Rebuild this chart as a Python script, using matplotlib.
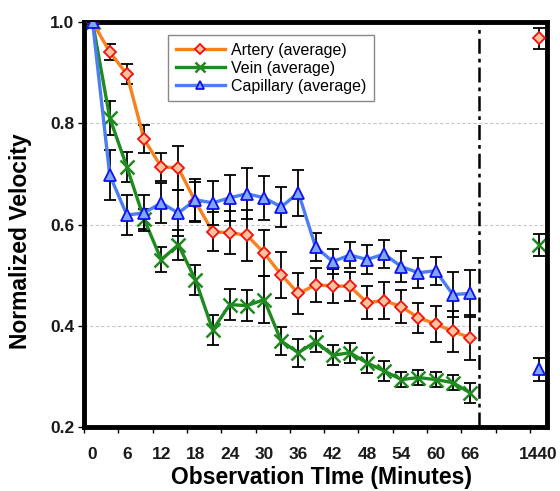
import matplotlib
matplotlib.use("Agg")
import matplotlib.pyplot as plt
import matplotlib.ticker as ticker

plt.rcParams["font.family"] = ["Liberation Sans", "DejaVu Sans"]

# observation times (minutes); 1440 is shown on its own after the break
minutes = [0, 3, 6, 9, 12, 15, 18, 21, 24, 27, 30, 33, 36, 39, 42, 45, 48, 51, 54, 57, 60, 63, 66]
late_minute = 1440

artery = [1.0, 0.941, 0.897, 0.769, 0.714, 0.712, 0.645, 0.586, 0.584, 0.579, 0.544, 0.501, 0.464,
          0.481, 0.479, 0.478, 0.446, 0.450, 0.438, 0.416, 0.404, 0.389, 0.377]
artery_err = [0.0, 0.015, 0.02, 0.027, 0.027, 0.044, 0.04, 0.038, 0.042, 0.05, 0.045, 0.045, 0.04,
              0.034, 0.034, 0.028, 0.033, 0.036, 0.033, 0.03, 0.035, 0.04, 0.045]
artery_late, artery_late_err = 0.968, 0.021

vein = [1.0, 0.811, 0.714, 0.611, 0.531, 0.560, 0.491, 0.392, 0.442, 0.440, 0.452, 0.370, 0.347,
        0.369, 0.342, 0.347, 0.327, 0.311, 0.294, 0.298, 0.294, 0.288, 0.268]
vein_err = [0.0, 0.034, 0.03, 0.02, 0.025, 0.03, 0.03, 0.03, 0.03, 0.03, 0.046, 0.028, 0.028,
            0.02, 0.02, 0.02, 0.02, 0.02, 0.015, 0.015, 0.015, 0.015, 0.02]
vein_late, vein_late_err = 0.560, 0.021

capillary = [1.0, 0.698, 0.619, 0.623, 0.643, 0.623, 0.649, 0.643, 0.653, 0.661, 0.653, 0.635, 0.663,
             0.556, 0.527, 0.540, 0.531, 0.542, 0.517, 0.505, 0.509, 0.462, 0.464]
capillary_err = [0.0, 0.05, 0.04, 0.035, 0.04, 0.046, 0.041, 0.044, 0.046, 0.05, 0.043, 0.04, 0.045,
                 0.027, 0.025, 0.025, 0.028, 0.027, 0.03, 0.03, 0.028, 0.045, 0.046]
capillary_late, capillary_late_err = 0.314, 0.022

tick_labels = ["0", "6", "12", "18", "24", "30", "36", "42", "48", "54", "60", "66", "1440"]

late_pos = 78  # where the 1440 min category sits on the axis

fig = plt.figure(figsize=(5.6, 4.91), dpi=100)
ax = fig.add_axes([0.15, 0.130, 0.827, 0.825])

series = [
    (vein, vein_err, vein_late, vein_late_err, "Vein (average)",
     dict(color="#1f8a1f", marker="x", ms=10, mew=1.8, mec="#1f8a1f"), 2),
    (artery, artery_err, artery_late, artery_late_err, "Artery (average)",
     dict(color="#f7801f", marker="D", ms=6.5, mew=1.3, mec="#f01010", mfc="#ffc29a"), 3),
    (capillary, capillary_err, capillary_late, capillary_late_err, "Capillary (average)",
     dict(color="#4a7ef2", marker="^", ms=8, mew=1.3, mec="#1010f0", mfc="#7fa8f8"), 4),
]

handles = {}
for vals, errs, late, late_err, label, style, z in series:
    ax.errorbar(minutes, vals, yerr=errs, fmt="none", ecolor="black",
                elinewidth=1.3, capsize=4, capthick=1.3, zorder=z - 0.5)
    ax.errorbar([late_pos], [late], yerr=[late_err], fmt="none", ecolor="black",
                elinewidth=1.3, capsize=4, capthick=1.3, zorder=z - 0.5)
    h, = ax.plot(minutes, vals, lw=2.4, label=label, zorder=z, **style)
    ax.plot([late_pos], [late], lw=0, zorder=z, **style)
    handles[label] = h

ax.axvline(67.5, color="black", lw=1.8, ls=(0, (6, 2, 1.5, 2)), zorder=5)

ax.set_xlim(-1.5, 79.5)
ax.set_ylim(0.2, 1.0)

ax.xaxis.set_major_locator(ticker.FixedLocator([0, 6, 12, 18, 24, 30, 36, 42, 48, 54, 60, 66, late_pos]))
ax.xaxis.set_major_formatter(ticker.FixedFormatter(tick_labels))
ax.xaxis.set_minor_locator(ticker.FixedLocator([-1.5 + 6 * k for k in range(14)]))
ax.tick_params(axis="x", which="major", length=0, pad=14)
ax.tick_params(axis="x", which="minor", length=4, width=1, direction="out")
ax.yaxis.set_major_locator(ticker.MultipleLocator(0.2))
ax.yaxis.set_major_formatter(ticker.FormatStrFormatter("%.1f"))
ax.tick_params(axis="y", length=4, width=1, pad=3)
for lab in ax.get_xticklabels() + ax.get_yticklabels():
    lab.set_fontweight("bold")
    lab.set_fontsize(12.5)
    lab.set_color("#1a1a1a")

ax.yaxis.grid(True, ls=(0, (3, 2)), color="#c8c8c8", lw=0.8)
ax.set_axisbelow(True)
for sp in ax.spines.values():
    sp.set_linewidth(3.5)

ax.set_xlabel("Observation TIme (Minutes)", fontsize=16.5, fontweight="bold")
ax.set_ylabel("Normalized Velocity", fontsize=16.5, fontweight="bold")
ax.xaxis.set_label_coords(0.512, -0.097)
ax.yaxis.set_label_coords(-0.112, 0.46)

leg = ax.legend([handles["Artery (average)"], handles["Vein (average)"], handles["Capillary (average)"]],
                ["Artery (average)", "Vein (average)", "Capillary (average)"],
                loc="upper left", bbox_to_anchor=(0.165, 0.987), fontsize=11.5,
                frameon=True, fancybox=False, edgecolor="#888888", framealpha=1,
                handlelength=3.1, borderpad=0.45, labelspacing=0.2, handletextpad=0.4,
                markerscale=0.75)
leg.get_frame().set_linewidth(1.0)
leg.set_zorder(10)

fig.savefig("out.png", dpi=100)
